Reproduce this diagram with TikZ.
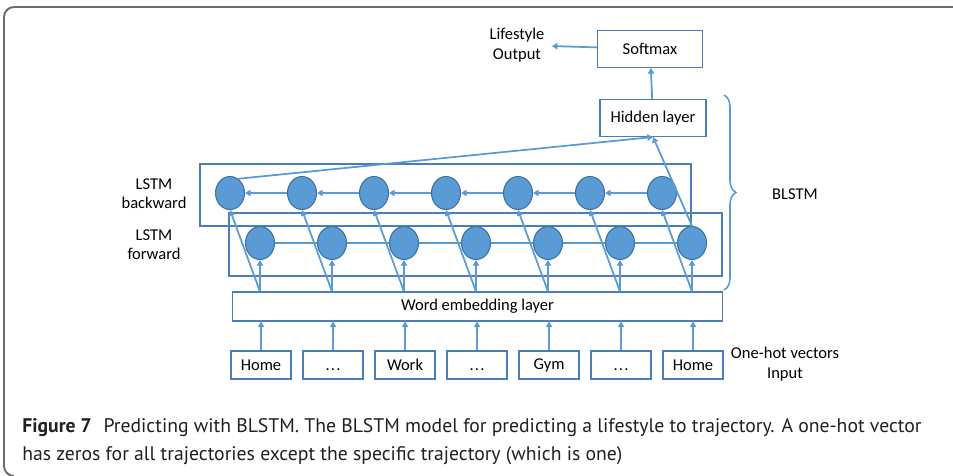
\documentclass[tikz,border=0pt]{standalone}
\usepackage{fontspec}
\setmainfont{Carlito}
\newfontfamily\capfont{PT Sans}
\usetikzlibrary{arrows.meta,shapes.geometric,decorations.pathreplacing}
\definecolor{lineblue}{HTML}{5B9BD5}
\definecolor{edgeblue}{HTML}{4A7EBB}
\definecolor{celledge}{HTML}{41719C}
\definecolor{capgray}{HTML}{231F20}
\definecolor{framegray}{HTML}{6B6B6B}
\newcommand\skipped{\vphantom{Home}.\kern0.7pt.\kern0.7pt.}

\begin{document}
\begin{tikzpicture}[x=0.02cm, y=-0.02cm,
    font=\fontsize{9.4}{11}\selectfont,
    layer/.style={draw=edgeblue, line width=0.6pt, inner sep=0pt},
    cell/.style={ellipse, draw=celledge, line width=0.6pt, fill=lineblue,
      inner sep=0pt, minimum width=0.58cm, minimum height=0.66cm},
    link/.style={lineblue, line width=1pt},
    flow/.style={link, -{Triangle[length=3.2pt,width=3.6pt]}},
    label/.style={align=center, inner sep=1pt}]
  \useasboundingbox (0,0) rectangle (953,476);
  % page frame
  \draw[framegray, line width=1.1pt, rounded corners=0.2cm]
    (953,7) -- (4,7) -- (4,476) -- (14,476);

  % output side
  \node[layer, minimum width=2.1cm, minimum height=0.74cm] (softmax) at (650,49) {Softmax};
  \node[label] (out) at (517,45) {Lifestyle\\Output};
  \node[layer, minimum width=2.12cm, minimum height=0.74cm] (hidden) at (653,118) {Hidden layer};

  % the two lstm layers
  \draw[layer] (200,164) rectangle (691,226);
  \draw[layer] (229,213) rectangle (722,276);
  \node[label] (bwd) at (154,194) {LSTM\\backward};
  \node[label] (fwd) at (154,245) {LSTM\\forward};

  \node[layer, minimum width=9.82cm, minimum height=0.58cm] (emb) at (477.5,306.5) {Word embedding layer};

  \foreach \t [count=\i from 0] in {Home,\skipped,Work,\skipped,Gym,\skipped,Home} {
    \node[layer, minimum width=1.2cm, minimum height=0.56cm] (in\i) at (261+72*\i,365) {\t};
    \node[cell] (b\i) at (230+72*\i,193) {};
    \node[cell] (f\i) at (260+72*\i,243) {};
    \draw[flow] (in\i) -- (in\i |- emb.south);
    \draw[flow] (emb.north -| f\i) -- (f\i);
    \draw[flow] (emb.north -| f\i) -- (b\i.south);
  }
  \foreach \i [evaluate=\i as \j using int(\i+1)] in {0,...,5} {
    \draw[link] (f\i) -- (f\j);
    \draw[flow] (b\j) -- (b\i);
  }

  \draw[flow] (b0.60) -- (hidden.south);
  \draw[flow] (f6.north) -- (hidden.south);
  \draw[flow] (hidden) -- (softmax);
  \draw[flow, shorten >=3pt] (softmax) -- (out);

  % brace round the blstm part
  \coordinate (bt) at (724,95);
  \coordinate (bb) at (724,290);
  \draw[link, line width=0.9pt, decorate, decoration={brace, amplitude=0.24cm}] (bt) -- (bb);
  \node[label] (blstm) at (795,194) {BLSTM};
  \node[label] (onehot) at (785,364) {One-hot vectors\\Input};

  % caption
  \node[anchor=base west, inner sep=0pt, text=capgray, font=\capfont\fontsize{11.2}{13}\selectfont] (cap1) at (22,432)
    {\textbf{Figure 7}\hspace{0.6em}Predicting with BLSTM. The BLSTM model for predicting a lifestyle to trajectory. A one-hot vector};
  \node[anchor=base west, inner sep=0pt, text=capgray, font=\capfont\fontsize{11.2}{13}\selectfont] (cap2) at (22,460)
    {has zeros for all trajectories except the specific trajectory (which is one)};
\end{tikzpicture}
\end{document}
